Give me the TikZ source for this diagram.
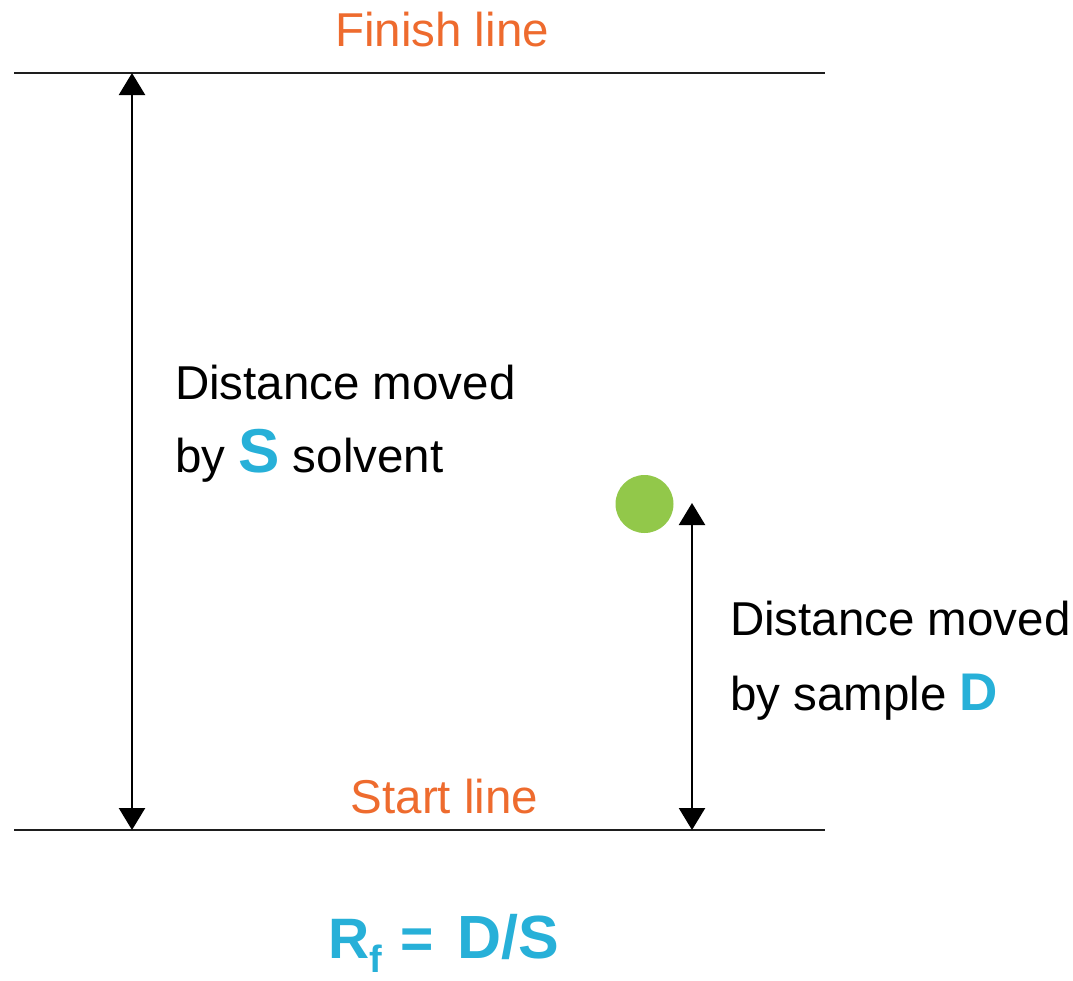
\documentclass[tikz,border=0pt]{standalone}
\usepackage{fontspec}
\usepackage{graphicx}
\setmainfont{Liberation Sans}
\usetikzlibrary{arrows.meta}

\definecolor{lineorange}{HTML}{EE6B2E}
\definecolor{letterblue}{HTML}{27B0D8}
\definecolor{spotgreen}{HTML}{92C84A}
\definecolor{inkgray}{HTML}{1E1E1E}

\tikzset{
  refline/.style={draw=inkgray, line width=2.8pt},
  dimarrow/.style={draw=black, line width=2.4pt,
    {Triangle[width=26pt,length=22pt]}-{Triangle[width=26pt,length=22pt]}},
  txt/.style={inner sep=0pt, outer sep=0pt, font=\fontsize{47.5}{56}\selectfont},
  linelabel/.style={txt, text=lineorange, anchor=base},
  bodytext/.style={txt, text=black, anchor=base west},
  formula/.style={inner sep=0pt, outer sep=0pt, anchor=base west, text=letterblue,
    font=\fontsize{57}{60}\selectfont\bfseries}
}

\newcommand{\bigletter}[2]{{\fontsize{#1}{#1}\selectfont\bfseries\color{letterblue}#2}}

\begin{document}
\begin{tikzpicture}[x=1pt,y=-1pt]
  \useasboundingbox (0,0) rectangle (1073,980);

  % finish and start lines
  \coordinate (finL) at (14,73);
  \coordinate (finR) at (825,73);
  \coordinate (staL) at (14,830);
  \coordinate (staR) at (825,830);
  \draw[refline] (finL) -- (finR);
  \draw[refline] (staL) -- (staR);

  \node[linelabel] (finlab) at (442,46) {Finish line};
  \node[linelabel] (stalab) at (444.5,813) {Start line};

  % solvent distance
  \coordinate (sTop) at (132,73);
  \coordinate (sBot) at (132,830);
  \draw[dimarrow] (sBot) -- (sTop);

  \node[bodytext] (sol1) at (175,399) {Distance moved};
  \node[bodytext] (sol2) at (175,472) {by \bigletter{62}{S} solvent};

  % sample spot and its distance
  \node[circle, fill=spotgreen, minimum size=58pt, inner sep=0pt] (spot) at (644.5,504) {};
  \coordinate (dTop) at (692,503);
  \coordinate (dBot) at (692,830);
  \draw[dimarrow] (dBot) -- (dTop);

  \node[bodytext] (smp1) at (730,635) {Distance moved};
  \node[bodytext] (smp2) at (730,710) {by sample \bigletter{53}{D}};

  % retention factor
  \node[formula] (rf) at (328,958)
    {R\raisebox{-14pt}{\fontsize{38}{38}\selectfont f}\hspace{19pt}=\hspace{23pt}{\fontsize{61}{61}\selectfont D/S}};
\end{tikzpicture}
\end{document}
